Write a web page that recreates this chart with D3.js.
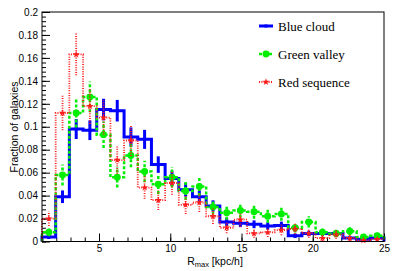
<!DOCTYPE html>
<html>
<head>
<meta charset="utf-8">
<title>Rmax distribution</title>
<script src="https://d3js.org/d3.v7.min.js"></script>
<style>
  body { margin: 0; background: #fff; }
  svg text { font-family: "Liberation Sans", Arial, sans-serif; }
</style>
</head>
<body>
<div id="chart"></div>
<script>
// 25 bins between 1 and 25 kpc/h
var xMin = 1, xMax = 25, nBins = 25;

var blueVals  = [0.004, 0.039, 0.098, 0.097, 0.115, 0.114, 0.091, 0.089, 0.067, 0.055, 0.045, 0.039, 0.031,
                 0.017, 0.016, 0.015, 0.0135, 0.014, 0.005, 0.007, 0.007, 0.007, 0.003, 0.002, 0.003];
var blueErr   = [0.0018, 0.0055, 0.0087, 0.0086, 0.0094, 0.0094, 0.0084, 0.0083, 0.0072, 0.0065, 0.0059, 0.0055, 0.0049,
                 0.0036, 0.0035, 0.0034, 0.0032, 0.0033, 0.0020, 0.0023, 0.0023, 0.0023, 0.0015, 0.0012, 0.0015];

var greenVals = [0.008, 0.058, 0.112, 0.126, 0.093, 0.056, 0.075, 0.061, 0.050, 0.056, 0.044, 0.048, 0.030,
                 0.025, 0.027, 0.026, 0.022, 0.024, 0.012, 0.017, 0.008, 0.007, 0.009, 0.004, 0.005];
var greenErr  = [0.0034, 0.0091, 0.0126, 0.0134, 0.0115, 0.0089, 0.0104, 0.0093, 0.0085, 0.0089, 0.0079, 0.0083, 0.0065,
                 0.0060, 0.0062, 0.0061, 0.0056, 0.0059, 0.0041, 0.0049, 0.0034, 0.0032, 0.0036, 0.0024, 0.0027];

var redVals   = [0.020, 0.112, 0.163, 0.118, 0.108, 0.071, 0.088, 0.047, 0.036, 0.051, 0.032, 0.034, 0.022,
                 0.012, 0.019, 0.007, 0.008, 0.010, 0.011, 0.007, 0.003, 0.006, 0.003, 0.001, 0.002];
var redErr    = [0.0064, 0.0151, 0.0182, 0.0155, 0.0148, 0.0120, 0.0134, 0.0098, 0.0086, 0.0102, 0.0081, 0.0083, 0.0067,
                 0.0049, 0.0062, 0.0038, 0.0040, 0.0045, 0.0047, 0.0038, 0.0025, 0.0035, 0.0025, 0.0014, 0.0020];

var seriesNames = ["Blue cloud", "Green valley", "Red sequence"];
var yTicks = [0, 0.02, 0.04, 0.06, 0.08, 0.1, 0.12, 0.14, 0.16, 0.18, 0.2];
var xTicks = [5, 10, 15, 20, 25];

var W = 399, H = 271;
var svg = d3.select("#chart").append("svg").attr("width", W).attr("height", H);

var x = d3.scaleLinear().domain([xMin, xMax]).range([42, 384]);
var y = d3.scaleLinear().domain([0, 0.2]).range([241.5, 12]);
var bw = (xMax - xMin) / nBins;

var series = [
  {name: seriesNames[0], vals: blueVals,  err: blueErr,  color: "#0000ff", width: 3,   dash: null,    marker: "dot"},
  {name: seriesNames[1], vals: greenVals, err: greenErr, color: "#00ee00", width: 2.5, dash: "3,2",   marker: "circle"},
  {name: seriesNames[2], vals: redVals,   err: redErr,   color: "#ff1a1a", width: 1.8, dash: "1,1.4", marker: "star"}
];

// axes
var yMinor = d3.range(0, 0.2001, 0.004);
var xMinor = d3.range(1, 25.01, 1);

svg.append("g").attr("transform", "translate(42,0)")
  .call(d3.axisLeft(y).tickValues(yMinor).tickSize(-4).tickFormat(""))
  .call(function(g){ g.select(".domain").remove(); });
svg.append("g").attr("transform", "translate(42,0)")
  .call(d3.axisLeft(y).tickValues(yTicks).tickSize(-8).tickPadding(4).tickFormat(d3.format("~g")))
  .call(function(g){ g.select(".domain").remove(); g.selectAll("text").style("font-size", "10px"); });

svg.append("g").attr("transform", "translate(0,241.5)")
  .call(d3.axisBottom(x).tickValues(xMinor).tickSize(-4).tickFormat(""))
  .call(function(g){ g.select(".domain").remove(); });
svg.append("g").attr("transform", "translate(0,241.5)")
  .call(d3.axisBottom(x).tickValues(xTicks).tickSize(-8).tickPadding(3))
  .call(function(g){ g.select(".domain").remove(); g.selectAll("text").style("font-size", "10px"); });

// histograms
var line = d3.line().x(function(d){ return x(d[0]); }).y(function(d){ return y(d[1]); });

function markerPath(type) {
  if (type == "star") return d3.symbol().type(d3.symbolStar).size(16)();
  if (type == "circle") return d3.symbol().type(d3.symbolCircle).size(38)();
  return d3.symbol().type(d3.symbolSquare).size(9)();
}

series.forEach(function(s) {
  var pts = [[xMin, 0]];
  s.vals.forEach(function(v, i) {
    pts.push([xMin + i * bw, v]);
    pts.push([xMin + (i + 1) * bw, v]);
  });
  pts.push([xMax, 0]);

  var g = svg.append("g");
  g.append("path").attr("d", line(pts))
    .attr("fill", "none").attr("stroke", s.color).attr("stroke-width", s.width)
    .attr("stroke-dasharray", s.dash);

  g.selectAll("line.err").data(s.vals).enter().append("line")
    .attr("x1", function(d, i){ return x(xMin + (i + 0.5) * bw); })
    .attr("x2", function(d, i){ return x(xMin + (i + 0.5) * bw); })
    .attr("y1", function(d, i){ return y(Math.max(0, d - s.err[i])); })
    .attr("y2", function(d, i){ return y(d + s.err[i]); })
    .attr("stroke", s.color).attr("stroke-width", s.width).attr("stroke-dasharray", s.dash);

  g.selectAll("path.mk").data(s.vals).enter().append("path")
    .attr("d", markerPath(s.marker))
    .attr("transform", function(d, i){ return "translate(" + x(xMin + (i + 0.5) * bw) + "," + y(d) + ")"; })
    .attr("fill", s.color);
});

// frame
svg.append("rect").attr("x", 42).attr("y", 12).attr("width", 342).attr("height", 229.5)
  .attr("fill", "none").attr("stroke", "#000").attr("stroke-width", 1);

// legend
var leg = svg.append("g");
series.forEach(function(s, i) {
  var ly = 26 + i * 28;
  leg.append("line").attr("x1", 259).attr("x2", 273).attr("y1", ly).attr("y2", ly)
    .attr("stroke", s.color).attr("stroke-width", s.width).attr("stroke-dasharray", s.dash);
  leg.append("path").attr("d", markerPath(s.marker)).attr("transform", "translate(266," + ly + ")")
    .attr("fill", s.color);
  leg.append("text").attr("x", 278).attr("y", ly + 4.5).text(s.name)
    .style("font-family", "'Liberation Serif', 'Times New Roman', serif").style("font-size", "13px");
});

// axis titles
svg.append("text").attr("transform", "translate(18,127) rotate(-90)")
  .attr("text-anchor", "middle").style("font-size", "10.5px").text("Fraction of galaxies");

var xt = svg.append("text").attr("x", 215).attr("y", 264.5).attr("text-anchor", "middle").style("font-size", "10.5px");
xt.append("tspan").text("R");
xt.append("tspan").attr("dy", 2.5).style("font-size", "7.5px").text("max");
xt.append("tspan").attr("dy", -2.5).text(" [kpc/h]");
</script>
</body>
</html>
